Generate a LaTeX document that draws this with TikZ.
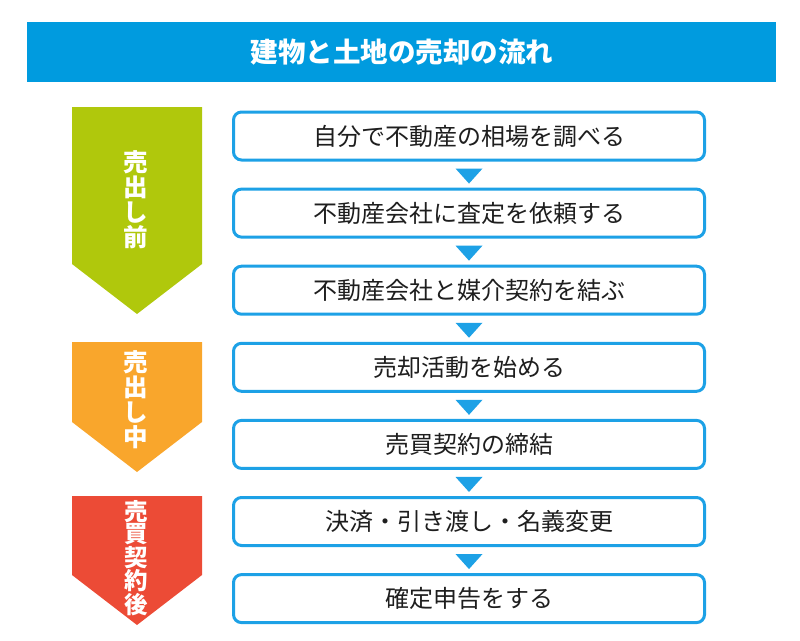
\documentclass[tikz,border=0pt]{standalone}
\usepackage{fontspec}
\setmainfont{Noto Sans CJK JP}
\usetikzlibrary{calc}
\definecolor{titleblue}{RGB}{0,155,223}
\definecolor{boxblue}{RGB}{29,161,230}
\definecolor{stagegreen}{RGB}{176,200,12}
\definecolor{stageorange}{RGB}{249,166,44}
\definecolor{stagered}{RGB}{236,75,54}
\definecolor{txtdark}{RGB}{30,30,30}
\tikzset{
  stepbox/.style={draw=boxblue, line width=3pt, rounded corners=8pt, fill=white,
    minimum width=471pt, minimum height=48pt, inner sep=0pt,
    font=\fontsize{24}{28}\selectfont, text=txtdark},
  stagelabel/.style={text=white, align=center, inner sep=0pt,
    font=\fontsize{24.5}{25}\selectfont\bfseries},
  flowtri/.style={fill=boxblue},
}
\begin{document}
\begin{tikzpicture}[x=1pt,y=-1pt]
\useasboundingbox (0,0) rectangle (800,640);
% title
\fill[titleblue] (27,22) rectangle (776,82);
\node[text=white, font=\fontsize{27.5}{30}\selectfont\bfseries, inner sep=0pt] (title) at (402,52) {建物と土地の売却の流れ};
% stages
\fill[stagegreen] (72,107) -- (202,107) -- (202,264) -- (137,314) -- (72,264) -- cycle;
\node[stagelabel] (s1) at (136,200) {売\\出\\し\\前};
\fill[stageorange] (72,342) -- (202,342) -- (202,422) -- (137,472) -- (72,422) -- cycle;
\node[stagelabel] (s2) at (136,400) {売\\出\\し\\中};
\fill[stagered] (72,496) -- (202,496) -- (202,575) -- (137,625) -- (72,575) -- cycle;
\node[stagelabel, font=\fontsize{23.5}{22}\selectfont\bfseries] (s3) at (136,558) {売\\買\\契\\約\\後};
% steps
\node[stepbox] (b1) at (469,136) {自分で不動産の相場を調べる};
\node[stepbox] (b2) at (469,213.1) {不動産会社に査定を依頼する};
\node[stepbox] (b3) at (469,290.2) {不動産会社と媒介契約を結ぶ};
\node[stepbox] (b4) at (469,367.3) {売却活動を始める};
\node[stepbox] (b5) at (469,444.4) {売買契約の締結};
\node[stepbox] (b6) at (469,521.5) {決済・引き渡し・名義変更};
\node[stepbox] (b7) at (469,598.6) {確定申告をする};
% connectors
\foreach \a/\b in {b1/b2,b2/b3,b3/b4,b4/b5,b5/b6,b6/b7}{
  \coordinate (m-\a) at ($(\a.south)!0.5!(\b.north)$);
  \fill[flowtri] ($(m-\a)+(-13.5,-6)$) -- ($(m-\a)+(13.5,-6)$) -- ($(m-\a)+(0,9)$) -- cycle;
}
\end{tikzpicture}
\end{document}
